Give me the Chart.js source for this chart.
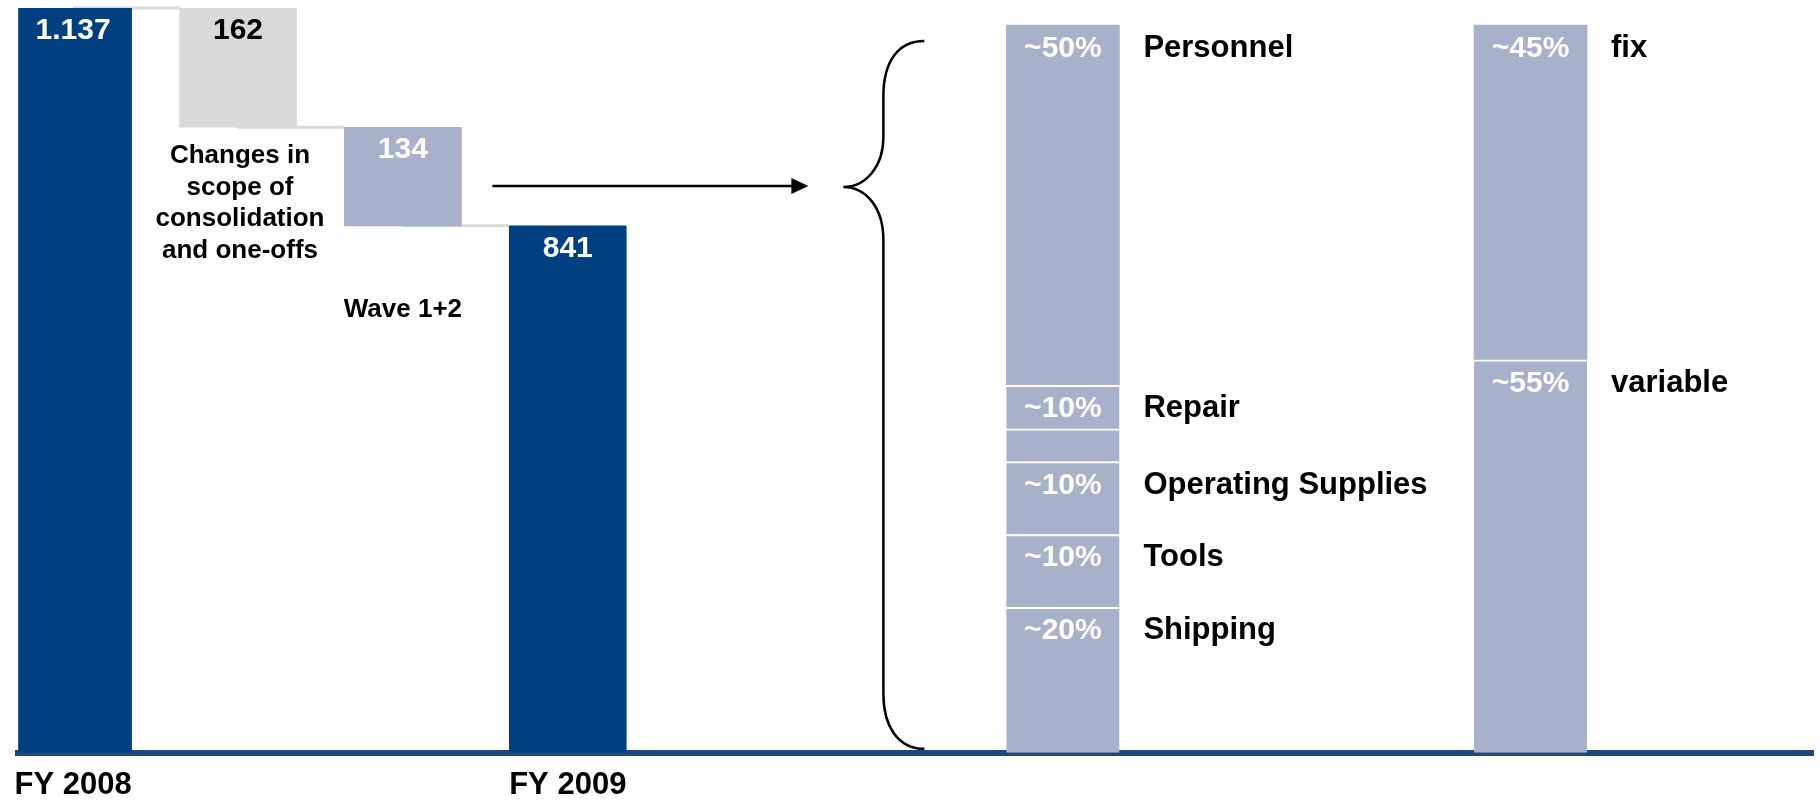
<!DOCTYPE html>
<html>
<head>
<meta charset="utf-8">
<script src="https://cdn.jsdelivr.net/npm/chart.js@4.4.1/dist/chart.umd.min.js"></script>
<style>
  html, body { margin: 0; padding: 0; background: #ffffff; overflow: hidden; }
  #c { display: block; }
</style>
</head>
<body>
<canvas id="c" width="1820" height="803"></canvas>
<script>
// ---------- data ----------
const waterfallSteps = ['FY 2008', 'Changes in scope of consolidation and one-offs', 'Wave 1+2', 'FY 2009'];
const axisLabels = ['FY 2008', '', '', 'FY 2009'];
const startValue = 1137;
const stepChanges = [-162, -134];
const endValue = 841;
const valueLabels = ['1.137', '162', '134', '841'];
const stepNotes = [[], ['Changes in', 'scope of', 'consolidation', 'and one-offs'], ['Wave 1+2'], []];

// cost structure, listed top to bottom
const costCategories = ['Personnel', 'Repair', '', 'Operating Supplies', 'Tools', 'Shipping'];
const costShares = [49.5, 6, 4.5, 10, 10, 20];
const costShareLabels = ['~50%', '~10%', '', '~10%', '~10%', '~20%'];

const costTypes = ['fix', 'variable'];
const costTypeShares = [46, 54];
const costTypeLabels = ['~45%', '~55%'];

// ---------- styles ----------
const NAVY = '#004080';
const GREY = '#D9D9D9';
const SLATE = '#A7B1C9';
const AXIS = '#1F497D';
const FAMILY = '"Liberation Sans", Arial, Helvetica, sans-serif';
const font = s => `bold ${s}px ${FAMILY}`;
const waterfallColors = [NAVY, GREY, SLATE, NAVY];
const valueLabelColors = ['#ffffff', '#000000', '#ffffff', '#ffffff'];

// ---------- build datasets ----------
const levels = [startValue];
stepChanges.forEach(c => levels.push(levels[levels.length - 1] + c));
const waterfallData = waterfallSteps.map((s, i) => {
  if (i === 0) return { x: i, y: startValue };
  if (i === waterfallSteps.length - 1) return { x: i, y: endValue };
  return { x: i, y: [levels[i], levels[i - 1]] };
});

const datasets = [{
  label: 'Waterfall',
  data: waterfallData,
  backgroundColor: waterfallColors,
  borderWidth: 0,
  barThickness: 117,
  grouped: false,
  xAxisID: 'x',
  yAxisID: 'y'
}];

const stackInfo = [];
function addStack(index, names, shares, pcts) {
  for (let i = shares.length - 1; i >= 0; i--) {
    datasets.push({
      label: names[i] || 'Other',
      data: [{ x: index, y: shares[i] }],
      backgroundColor: SLATE,
      borderColor: '#ffffff',
      borderWidth: i === 0 ? 0 : { top: 2, left: 0, right: 0, bottom: 0 },
      barThickness: 113,
      grouped: false,
      xAxisID: 'x2',
      yAxisID: 'y2'
    });
    stackInfo.push({ ds: datasets.length - 1, name: names[i], pct: pcts[i] });
  }
}
addStack(0, costCategories, costShares, costShareLabels);
addStack(1, costTypes, costTypeShares, costTypeLabels);

// ---------- drawing helpers ----------
const decorations = {
  id: 'decorations',
  beforeDatasetsDraw(chart) {
    // connector lines of the waterfall
    const ctx = chart.ctx;
    const els = chart.getDatasetMeta(0).data;
    ctx.save();
    ctx.strokeStyle = GREY;
    ctx.lineWidth = 3;
    for (let i = 0; i < els.length - 1; i++) {
      const a = els[i], b = els[i + 1];
      const y = i === 0 ? Math.min(b.y, b.base) : Math.max(a.y, a.base);
      ctx.beginPath();
      ctx.moveTo(a.x, y);
      ctx.lineTo(b.x - b.width / 2, y);
      ctx.stroke();
    }
    ctx.restore();
  },
  afterDatasetsDraw(chart) {
    const ctx = chart.ctx;
    ctx.save();
    ctx.textBaseline = 'alphabetic';
    // waterfall value labels and notes
    const els = chart.getDatasetMeta(0).data;
    els.forEach((el, i) => {
      const top = Math.min(el.y, el.base);
      const bottom = Math.max(el.y, el.base);
      ctx.font = font(30);
      ctx.textAlign = 'center';
      ctx.fillStyle = valueLabelColors[i];
      ctx.fillText(valueLabels[i], el.x, top + 31);
      const notes = stepNotes[i];
      if (notes.length) {
        ctx.font = font(26);
        ctx.fillStyle = '#000000';
        const first = notes.length > 1 ? bottom + 36 : bottom + 91;
        notes.forEach((line, j) => ctx.fillText(line, el.x + (notes.length > 1 ? 2 : 0), first + j * 31.5));
      }
    });
    // stacked share labels
    stackInfo.forEach(info => {
      const el = chart.getDatasetMeta(info.ds).data[0];
      if (!el) return;
      const top = Math.min(el.y, el.base);
      if (info.pct) {
        ctx.font = font(30);
        ctx.textAlign = 'center';
        ctx.fillStyle = '#ffffff';
        ctx.fillText(info.pct, el.x, top + 32);
      }
      if (info.name) {
        ctx.font = font(31);
        ctx.textAlign = 'left';
        ctx.fillStyle = '#000000';
        ctx.fillText(info.name, el.x + el.width / 2 + 24, top + 32);
      }
    });
    // arrow and brace
    const firstStack = chart.getDatasetMeta(1).data[0];
    const left = firstStack.x - firstStack.width / 2;
    const area = chart.chartArea;
    const y2 = chart.scales.y2;
    const px = left - 163;          // brace tip
    const vx = left - 123;          // brace stem
    const ex = left - 82;           // brace ends
    const py = area.top + 179;
    const ty = y2.getPixelForValue(100) + 16;
    const by = area.bottom - 4;
    ctx.strokeStyle = '#000000';
    ctx.fillStyle = '#000000';
    ctx.lineWidth = 2.5;
    ctx.beginPath();
    ctx.moveTo(ex, ty);
    ctx.bezierCurveTo(ex - 26, ty, vx, ty + 20, vx, ty + 55);
    ctx.lineTo(vx, py - 50);
    ctx.bezierCurveTo(vx, py - 20, px + 22, py, px, py);
    ctx.bezierCurveTo(px + 22, py, vx, py + 20, vx, py + 53);
    ctx.lineTo(vx, by - 55);
    ctx.bezierCurveTo(vx, by - 22, ex - 26, by, ex, by);
    ctx.stroke();

    const wave = els[2];
    const ax0 = wave.x + wave.width / 2 + 31;
    const tip = px - 35;
    const ay = py - 1;
    ctx.beginPath();
    ctx.moveTo(ax0, ay);
    ctx.lineTo(tip - 14, ay);
    ctx.stroke();
    ctx.beginPath();
    ctx.moveTo(tip, ay);
    ctx.lineTo(tip - 17, ay - 8);
    ctx.lineTo(tip - 17, ay + 8);
    ctx.closePath();
    ctx.fill();
    ctx.restore();
  }
};

Chart.defaults.font.family = FAMILY;

new Chart(document.getElementById('c'), {
  type: 'bar',
  data: { datasets },
  options: {
    responsive: false,
    animation: false,
    devicePixelRatio: 1,
    layout: { padding: { left: 17, right: 7, top: 8, bottom: -15 } },
    plugins: { legend: { display: false }, tooltip: { enabled: false }, title: { display: false } },
    scales: {
      x: {
        type: 'linear',
        offset: false,
        bounds: 'data',
        min: -0.3333,
        max: 10.552,
        grid: { display: false, drawTicks: false, offset: false },
        border: { display: true, color: AXIS, width: 6 },
        afterBuildTicks: scale => {
          scale.ticks = axisLabels.map((l, i) => ({ value: i, l })).filter(t => t.l).map(t => ({ value: t.value }));
        },
        ticks: {
          autoSkip: false,
          maxRotation: 0,
          padding: 14,
          color: '#000000',
          font: { size: 31, weight: 'bold' },
          callback: v => axisLabels[v] || ''
        }
      },
      y: {
        type: 'linear',
        display: false,
        bounds: 'data',
        min: 125,
        max: 1137
      },
      x2: {
        type: 'linear',
        display: false,
        offset: false,
        grid: { offset: false },
        stacked: true,
        bounds: 'data',
        min: -2.234,
        max: 1.604
      },
      y2: {
        type: 'linear',
        display: false,
        stacked: true,
        bounds: 'data',
        min: 0,
        max: 102.34
      }
    }
  },
  plugins: [decorations]
});
</script>
</body>
</html>
